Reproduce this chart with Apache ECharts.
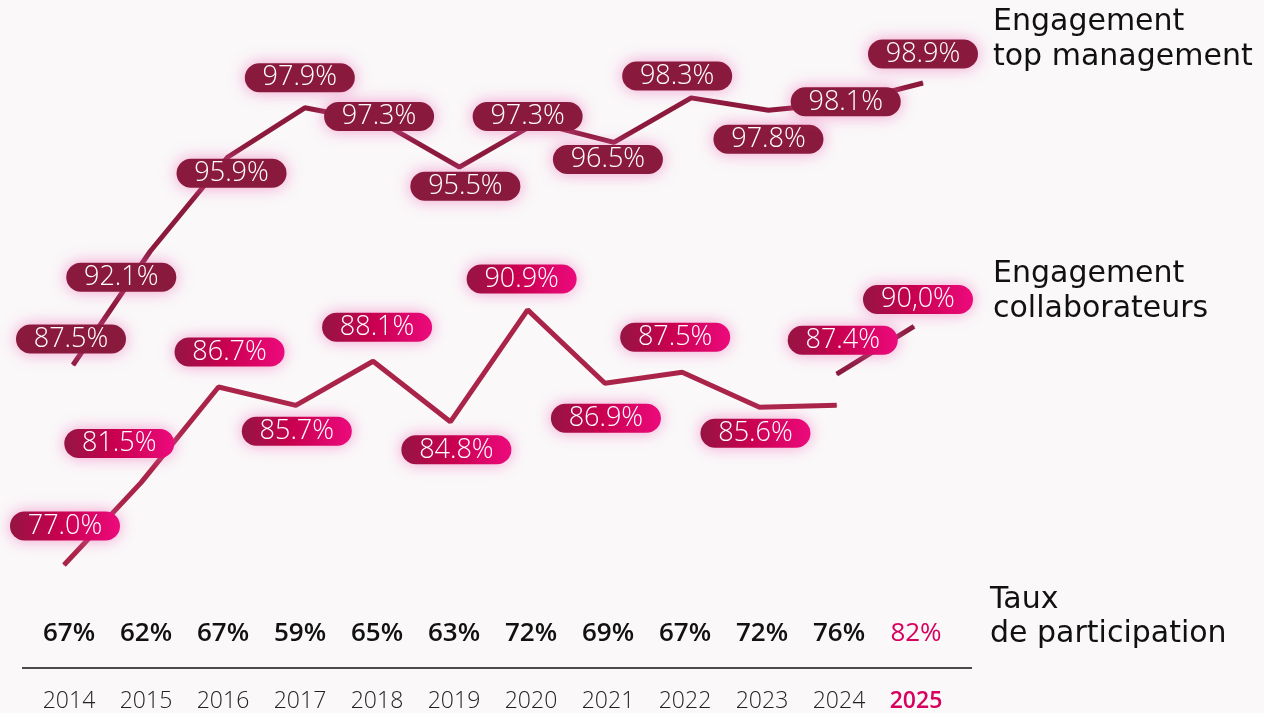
<!DOCTYPE html>
<html>
<head>
<meta charset="utf-8">
<script src="https://cdn.jsdelivr.net/npm/echarts@6/dist/echarts.min.js"></script>
<style>
  html, body { margin: 0; padding: 0; background: #faf8f9; }
  #chart { width: 1264px; height: 713px; }
</style>
</head>
<body>
<div id="chart"></div>
<script>
  const years = ['2014', '2015', '2016', '2017', '2018', '2019', '2020', '2021', '2022', '2023', '2024', '2025']
  const participation = ['67%', '62%', '67%', '59%', '65%', '63%', '72%', '69%', '67%', '72%', '76%', '82%']
  const topManagement = [87.5, 92.1, 95.9, 97.9, 97.3, 95.5, 97.3, 96.5, 98.3, 97.8, 98.1, 98.9]
  // main trace: the 2024 end point of this trace sits lower than the 2024 label, as drawn
  const collaborateurs = [77.0, 81.5, 86.7, 85.7, 88.1, 84.8, 90.9, 86.9, 87.5, 85.6, 85.7, null]
  const collaborateursLast = [null, null, null, null, null, null, null, null, null, null, 87.4, 90.0]

  // where each pill sits relative to its point (px)
  const topShift = [[-2, -26], [-29, 26], [4, 16], [-5, -30], [-3, -6], [6, 19], [-9, -6], [-6, 17], [-14, -22], [0, 29], [0, -1], [0, -29]]
  const collabShift = [[1, -39], [-22, -39], [11, -35], [1, 26], [4, -34], [6, 28], [-6, -31], [1, 35], [-7, -35], [-4, 26]]
  const lastShift = { 10: [6, -34], 11: [4, -27] }

  const darkRed = '#8a1a3d'
  const pink = '#d8005f'

  let pill = {
    show: true,
    position: 'inside',
    color: '#fff',
    fontFamily: 'Open Sans',
    fontSize: 27,
    fontWeight: 300,
    width: 80,
    align: 'center',
    lineHeight: 23,
    padding: [3, 15, 3, 15],
    borderRadius: 15,
    shadowBlur: 16,
    shadowColor: 'rgba(238, 100, 180, 0.6)',
    formatter: function (p) {
      return p.value.toFixed(1) + '%'
    }
  }
  let pinkGradient = new echarts.graphic.LinearGradient(0, 0, 1, 0, [
    { offset: 0, color: '#951542' },
    { offset: 0.45, color: '#c8004f' },
    { offset: 1, color: '#ec0a7c' }
  ])

  let charts = echarts.init(document.getElementById('chart'))
  charts.setOption({
    animation: false,
    backgroundColor: '#faf8f9',
    grid: [
      { left: 73, right: 341, top: 40, height: 560 },
      { left: 64, right: 350, top: 40, height: 560 },
      { left: 69, right: 348, top: 40, bottom: 103 }
    ],
    xAxis: [
      { gridIndex: 0, type: 'category', data: years, boundaryGap: false, show: false },
      { gridIndex: 1, type: 'category', data: years, boundaryGap: false, show: false },
      {
        gridIndex: 2,
        type: 'category',
        data: participation,
        boundaryGap: false,
        position: 'bottom',
        axisLine: { show: false },
        axisTick: { show: false },
        axisLabel: {
          interval: 0,
          margin: 11,
          formatter: function (v, i) {
            return (i === participation.length - 1 ? '{hi|' : '{base|') + v + '}'
          },
          rich: {
            base: { fontFamily: 'Open Sans', fontSize: 26, fontWeight: 600, color: '#111', lineHeight: 27 },
            hi: { fontFamily: 'Open Sans', fontSize: 26, fontWeight: 400, color: pink, lineHeight: 27 }
          }
        }
      },
      {
        gridIndex: 2,
        type: 'category',
        data: years,
        boundaryGap: false,
        position: 'bottom',
        offset: 68,
        axisLine: { show: false },
        axisTick: { show: false },
        axisLabel: {
          interval: 0,
          margin: 12,
          formatter: function (v, i) {
            return (i === years.length - 1 ? '{hi|' : '{base|') + v + '}'
          },
          rich: {
            base: { fontFamily: 'Open Sans', fontSize: 23, fontWeight: 300, color: '#222', lineHeight: 24 },
            hi: { fontFamily: 'Open Sans', fontSize: 23, fontWeight: 600, color: pink, lineHeight: 24 }
          }
        }
      }
    ],
    yAxis: [
      { gridIndex: 0, type: 'value', min: 78.0, max: 100.64, show: false, splitLine: { show: false } },
      { gridIndex: 1, type: 'value', min: 75.09, max: 105.61, show: false, splitLine: { show: false } },
      { gridIndex: 2, type: 'value', show: false, splitLine: { show: false } }
    ],
    graphic: [
      {
        type: 'line',
        shape: { x1: 22, y1: 668, x2: 972, y2: 668 },
        style: { stroke: '#111', lineWidth: 1.5 }
      },
      {
        type: 'text', left: 993, top: 5,
        style: { text: 'Engagement\ntop management', font: '30px "DejaVu Sans"', fill: '#111', lineHeight: 35 }
      },
      {
        type: 'text', left: 993, top: 257,
        style: { text: 'Engagement\ncollaborateurs', font: '30px "DejaVu Sans"', fill: '#111', lineHeight: 35 }
      },
      {
        type: 'text', left: 990, top: 583,
        style: { text: 'Taux\nde participation', font: '30px "DejaVu Sans"', fill: '#111', lineHeight: 34 }
      }
    ],
    series: [
      {
        name: 'Engagement top management',
        type: 'line',
        xAxisIndex: 0,
        yAxisIndex: 0,
        symbol: 'circle',
        symbolSize: 1,
        itemStyle: { color: darkRed },
        lineStyle: { color: '#8c1a3c', width: 5 },
        label: Object.assign({}, pill, { backgroundColor: darkRed }),
        data: topManagement.map(function (v, i) {
          return { value: v, label: { offset: topShift[i] } }
        })
      },
      {
        name: 'Engagement collaborateurs',
        type: 'line',
        xAxisIndex: 1,
        yAxisIndex: 1,
        symbol: 'circle',
        symbolSize: 1,
        itemStyle: { color: '#aa2449' },
        lineStyle: { color: '#aa2449', width: 5 },
        label: Object.assign({}, pill, { backgroundColor: pinkGradient }),
        data: collaborateurs.map(function (v, i) {
          if (collabShift[i]) return { value: v, label: { offset: collabShift[i] } }
          return { value: v, label: { show: false } }
        })
      },
      {
        name: 'Engagement collaborateurs 2025',
        type: 'line',
        xAxisIndex: 1,
        yAxisIndex: 1,
        symbol: 'circle',
        symbolSize: 1,
        itemStyle: { color: darkRed },
        lineStyle: { color: darkRed, width: 5 },
        label: Object.assign({}, pill, { backgroundColor: pinkGradient }),
        data: collaborateursLast.map(function (v, i) {
          if (v === null) return v
          let item = { value: v, label: { offset: lastShift[i] } }
          // the poster writes this one with a comma
          if (i === 11) item.label.formatter = v.toFixed(1).replace('.', ',') + '%'
          return item
        })
      }
    ]
  })
</script>
</body>
</html>
